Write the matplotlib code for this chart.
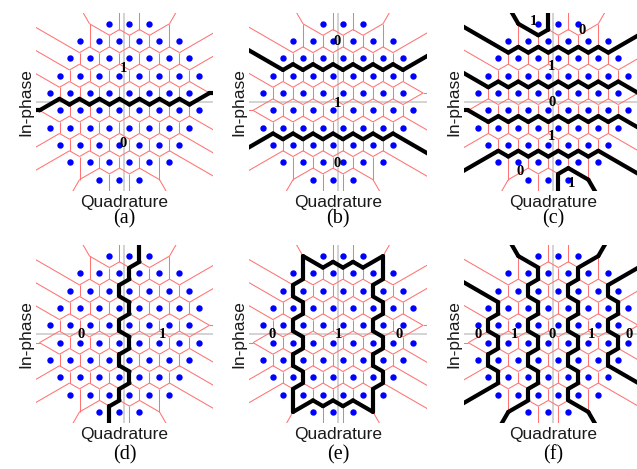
import numpy as np
import matplotlib
matplotlib.use("Agg")
import matplotlib.pyplot as plt
from matplotlib.collections import LineCollection

# ---- 64-point hexagonal constellation (rows from top to bottom) ----
# in-phase level of each row, in units of the row spacing (sqrt(3)/2 of the point spacing)
row_level = [4.5, 3.5, 2.5, 1.5, 0.5, -0.5, -1.5, -2.5, -3.5, -4.5]
# quadrature value of the first point of each row (point spacing = 1)
row_first = [-0.75, -2.25, -2.75, -3.25, -3.75, -3.25, -3.75, -3.25, -2.75, -1.25]
row_count = [3, 6, 7, 8, 8, 8, 8, 7, 6, 3]

# ---- bit value of every point, per panel (row by row, left to right) ----
bits_a = ["111", "111111", "1111111", "11111111", "11111111",
          "00000000", "00000000", "0000000", "000000", "000"]
bits_b = ["000", "000000", "0000000", "11111111", "11111111",
          "11111111", "11111111", "0000000", "000000", "000"]
bits_c = ["100", "000000", "1111111", "11111111", "00000000",
          "00000000", "11111111", "1111111", "000000", "001"]
bits_d = ["001", "000111", "0001111", "00001111", "00001111",
          "00001111", "00001111", "0000111", "000111", "011"]
bits_e = ["000", "011110", "0111100", "00111100", "00111100",
          "00111100", "00111100", "0011110", "011110", "000"]
bits_f = ["000", "110011", "1100110", "01100110", "01100110",
          "01100110", "01100110", "0110011", "110011", "000"]

# region labels (quadrature, in-phase) in constellation units
labels_a = [(-0.07, 1.67, "1"), (-0.05, -2.08, "0")]
labels_b = [(-0.05, 3.0, "0"), (-0.05, -0.08, "1"), (-0.05, -3.08, "0")]
labels_c = [(-1.0, 4.0, "1"), (1.42, 3.55, "0"), (-0.08, 1.75, "1"),
            (-0.08, -0.05, "0"), (-0.08, -1.75, "1"), (-1.67, -3.5, "0"),
            (0.92, -4.08, "1")]
labels_d = [(-2.17, -0.05, "0"), (1.92, -0.05, "1")]
labels_e = [(-3.28, 0.0, "0"), (0.0, -0.05, "1"), (3.08, 0.0, "0")]
labels_f = [(-3.75, 0.0, "0"), (-1.92, -0.05, "1"), (-0.05, -0.05, "0"),
            (1.92, -0.05, "1"), (3.8, 0.0, "0")]

panels = [("(a)", bits_a, labels_a), ("(b)", bits_b, labels_b), ("(c)", bits_c, labels_c),
          ("(d)", bits_d, labels_d), ("(e)", bits_e, labels_e), ("(f)", bits_f, labels_f)]

# ---- build points ----
H = np.sqrt(3) / 2
pts = []
for lv, x0, n in zip(row_level, row_first, row_count):
    for k in range(n):
        pts.append((x0 + k, lv * H))
pts = np.array(pts)
N = len(pts)


def voronoi_cell(i, B=30.0):
    poly = [np.array(p, float) for p in [(-B, -B), (B, -B), (B, B), (-B, B)]]
    pi = pts[i]
    for j in range(N):
        if j == i:
            continue
        nv = pts[j] - pi
        c = nv @ ((pts[j] + pi) / 2)
        new = []
        m = len(poly)
        for a in range(m):
            p = poly[a]
            q = poly[(a + 1) % m]
            dp = nv @ p - c
            dq = nv @ q - c
            if dp <= 1e-12:
                new.append(p)
            if (dp < -1e-12 and dq > 1e-12) or (dp > 1e-12 and dq < -1e-12):
                t = dp / (dp - dq)
                new.append(p + t * (q - p))
        poly = new
    return poly


edges = []  # (p, q, i, j)
for i in range(N):
    poly = voronoi_cell(i)
    m = len(poly)
    for a in range(m):
        p = poly[a]
        q = poly[(a + 1) % m]
        if np.hypot(*(q - p)) < 1e-9:
            continue
        mid = (p + q) / 2
        dist = np.hypot(pts[:, 0] - mid[0], pts[:, 1] - mid[1])
        order = np.argsort(dist)
        if abs(dist[order[1]] - dist[order[0]]) < 1e-6:
            nb = [order[0], order[1]]
            if i in nb:
                j = nb[1] if nb[0] == i else nb[0]
                if i < j:
                    edges.append((p, q, i, j))

all_segs = [[tuple(e[0]), tuple(e[1])] for e in edges]

# ---- figure layout (pixel geometry) ----
W, Hpx = 637, 469
fig = plt.figure(figsize=(W / 100, Hpx / 100), dpi=100)
unit = 20.0          # pixels per constellation unit
half = 4.45          # half-range of axes in constellation units
col_cx = [124.5, 338.0, 553.3]
row_cy = [101.7, 334.0]
quad_y = [202.0, 435.0]
letter_y = [219.0, 455.0]

red = "#ff7373"
grey = "#c8c8c8"
sans = ["Liberation Sans", "DejaVu Sans"]
serif = ["Liberation Serif", "DejaVu Serif"]

for idx, (letter, bits, labels) in enumerate(panels):
    r, c = divmod(idx, 3)
    cx, cy = col_cx[c], row_cy[r]
    hp = half * unit
    ax = fig.add_axes([(cx - hp) / W, 1 - (cy + hp) / Hpx, 2 * hp / W, 2 * hp / Hpx])
    ax.set_xlim(-half, half)
    ax.set_ylim(-half, half)
    ax.axis("off")

    b = np.array([int(ch) for s in bits for ch in s])
    black_segs = [[tuple(e[0]), tuple(e[1])] for e in edges if b[e[2]] != b[e[3]]]

    ax.axhline(0, color=grey, lw=1.1, zorder=0.5)
    ax.axvline(0, color=grey, lw=1.1, zorder=0.5)
    ax.add_collection(LineCollection(all_segs, colors=red, linewidths=0.75, zorder=1))
    ax.add_collection(LineCollection(black_segs, colors="black", linewidths=3.0,
                                     capstyle="round", joinstyle="round", zorder=2))
    ax.plot(pts[:, 0], pts[:, 1], "o", color="#0000ff", ms=4.6, mec="none", zorder=3)
    for (lx, ly, t) in labels:
        ax.text(lx, ly, t, ha="center", va="center", fontsize=10.5, fontweight="bold",
                family=serif, color="black", zorder=4, clip_on=False)

    fig.text((cx - hp - 10) / W, 1 - cy / Hpx, "In-phase", rotation=90, ha="center",
             va="center", fontsize=12.5, family=sans, color="#1a1a1a")
    fig.text(cx / W, 1 - quad_y[r] / Hpx, "Quadrature", ha="center", va="center",
             fontsize=12.5, family=sans, color="#1a1a1a")
    fig.text(cx / W, 1 - letter_y[r] / Hpx, letter, ha="center", va="center",
             fontsize=14.5, family=serif, color="black")

fig.savefig("out.png", dpi=100)
